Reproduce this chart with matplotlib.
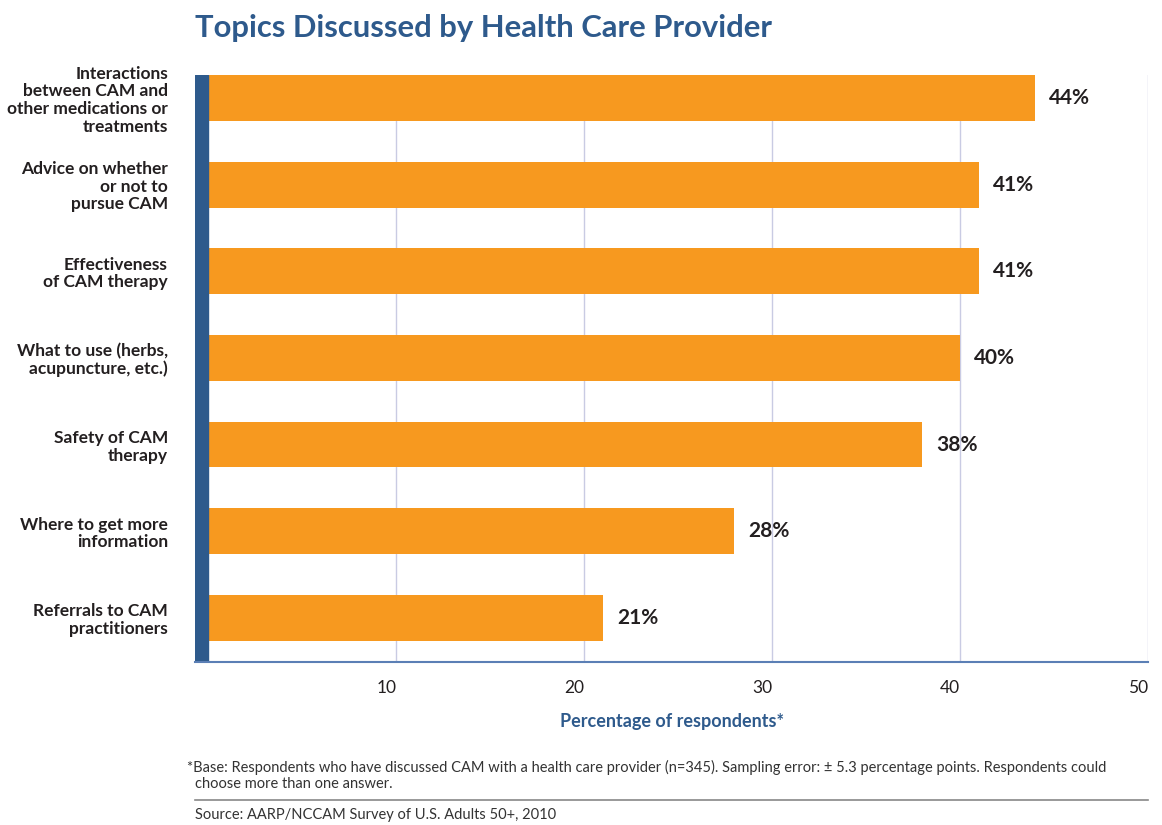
import matplotlib
matplotlib.use("Agg")
import matplotlib.pyplot as plt
from matplotlib.lines import Line2D

categories = [
    "Interactions\nbetween CAM and\nother medications or\ntreatments",
    "Advice on whether\nor not to\npursue CAM",
    "Effectiveness\nof CAM therapy",
    "What to use (herbs,\nacupuncture, etc.)",
    "Safety of CAM\ntherapy",
    "Where to get more\ninformation",
    "Referrals to CAM\npractitioners",
]
values = [44, 41, 41, 40, 38, 28, 21]
xticks = [10, 20, 30, 40, 50]

FONT = ["Lato", "DejaVu Sans"]
plt.rcParams["font.family"] = FONT

W, H = 1162, 825
fig = plt.figure(figsize=(W / 100, H / 100), dpi=100)
ax_l, ax_r, ax_t, ax_b = 195, 1148, 75, 662
ax = fig.add_axes([ax_l / W, 1 - ax_b / H, (ax_r - ax_l) / W, (ax_b - ax_t) / H])

orange = "#F7991F"
navy = "#2E5A8C"
dark = "#231F20"

ypos = list(range(len(categories)))
ax.barh(ypos, values, height=0.53, color=orange, zorder=3)
ax.set_xlim(-0.7, 50)
ax.set_ylim(6.51, -0.265)
ax.axvspan(-0.7, 0, color=navy, zorder=4)

for x in xticks:
    ax.axvline(x, color="#C9CBE3", lw=1, zorder=1)

for y, v in zip(ypos, values):
    ax.text(v + 0.75, y, f"{v}%", va="center", ha="left", fontsize=15,
            fontweight="bold", color=dark, zorder=5)

ax.set_yticks(ypos)
ax.set_yticklabels(categories, fontsize=12.5, fontweight="bold", color=dark,
                   linespacing=1.12)
ax.tick_params(axis="y", length=0, pad=19.5)
ax.set_xticks(xticks)
ax.set_xticklabels([str(t) for t in xticks], fontsize=12.5, color=dark, ha="right")
ax.tick_params(axis="x", length=0, pad=13)

for s in ["top", "right", "left"]:
    ax.spines[s].set_visible(False)
ax.spines["bottom"].set_color("#5B7FB5")
ax.spines["bottom"].set_linewidth(1.5)
ax.spines["bottom"].set_zorder(5)

ax.set_xlabel("Percentage of respondents*", fontsize=13, fontweight="bold",
              color=navy, labelpad=12)

fig.text(195 / W, 1 - 28 / H, "Topics Discussed by Health Care Provider",
         fontsize=22.3, fontweight="bold", color=navy, va="center", ha="left")

fn_size = 10.5
fig.text(187 / W, 1 - 767 / H,
         "*Base: Respondents who have discussed CAM with a health care provider (n=345). "
         "Sampling error: \u00b1 5.3 percentage points. Respondents could",
         fontsize=fn_size, color="#333333", va="center", ha="left")
fig.text(195 / W, 1 - 784 / H, "choose more than one answer.",
         fontsize=fn_size, color="#333333", va="center", ha="left")
fig.add_artist(Line2D([195 / W, 1148 / W], [1 - 800 / H, 1 - 800 / H],
                      color="#888888", lw=1.2))
fig.text(195 / W, 1 - 815 / H, "Source: AARP/NCCAM Survey of U.S. Adults 50+, 2010",
         fontsize=fn_size, color="#333333", va="center", ha="left")

fig.savefig("out.png", dpi=100, facecolor="white")
